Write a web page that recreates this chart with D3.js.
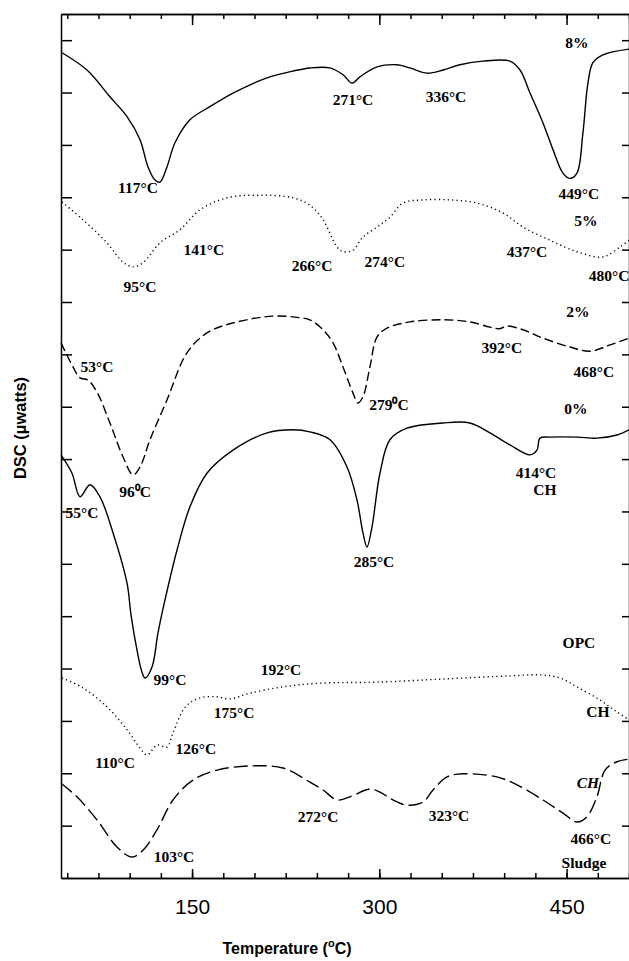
<!DOCTYPE html>
<html>
<head>
<meta charset="utf-8">
<script src="https://cdn.jsdelivr.net/npm/d3@7"></script>
<style>
  body { margin: 0; background: #ffffff; }
  svg { display: block; }
  .peak { font-family: "Liberation Serif", "Times New Roman", serif; font-weight: bold; font-size: 15.5px; }
  .axis text { font-family: "Liberation Sans", Arial, sans-serif; }
</style>
</head>
<body>
<div id="chart"></div>
<script>

// temperatures (deg C) and DSC readings (arbitrary units, one unit = one tick) per trace

var t8   = [45.8, 65.8, 84.2, 97.9, 108.3, 114.7, 120.3, 124.3, 129.9, 136.3, 148.3, 164.3, 182.8, 210.0, 230.8, 244.4, 260.5, 270.9, 278.1, 284.5, 298.1, 314.1, 324.5, 338.2, 351.0, 364.6, 383.0, 404.6, 412.7, 420.7, 431.1, 439.1, 447.1, 452.7, 458.3, 463.1, 467.1, 471.1, 479.1, 500.0];
var dsc8 = [15.76, 15.43, 14.92, 14.54, 14.10, 13.58, 13.33, 13.29, 13.58, 14.04, 14.48, 14.73, 14.99, 15.28, 15.41, 15.47, 15.47, 15.34, 15.18, 15.30, 15.49, 15.53, 15.47, 15.37, 15.43, 15.53, 15.60, 15.60, 15.43, 14.99, 14.42, 13.91, 13.46, 13.36, 13.46, 14.23, 15.18, 15.57, 15.72, 15.83];

var t5   = [45.8, 62.6, 81.8, 94.7, 102.7, 110.7, 124.3, 140.3, 156.3, 178.0, 204.4, 230.8, 244.4, 254.9, 266.1, 270.9, 278.9, 286.9, 298.1, 308.5, 318.9, 335.0, 356.6, 378.2, 399.0, 415.1, 436.7, 458.3, 479.1, 492.7, 500.0];
var dsc5 = [12.91, 12.57, 12.13, 11.76, 11.67, 11.75, 12.13, 12.38, 12.76, 12.99, 13.04, 12.99, 12.85, 12.57, 12.05, 11.96, 11.99, 12.24, 12.43, 12.62, 12.89, 12.95, 12.95, 12.89, 12.70, 12.43, 12.18, 11.96, 11.86, 12.05, 12.18];

var t2   = [45.0, 54.6, 60.2, 66.6, 73.8, 84.2, 94.7, 102.7, 108.3, 116.3, 129.9, 145.9, 161.9, 182.8, 214.8, 236.4, 244.4, 254.9, 262.9, 270.9, 278.9, 282.9, 286.9, 292.5, 298.1, 306.1, 324.5, 351.0, 372.6, 388.6, 396.6, 402.2, 415.1, 431.1, 452.7, 468.7, 484.8, 500.0];
var dsc2 = [10.22, 9.76, 9.55, 9.51, 9.28, 8.69, 8.04, 7.70, 7.85, 8.37, 9.13, 10.03, 10.41, 10.60, 10.73, 10.70, 10.66, 10.47, 10.22, 9.76, 9.26, 9.07, 9.19, 9.76, 10.33, 10.50, 10.62, 10.66, 10.62, 10.52, 10.49, 10.54, 10.47, 10.31, 10.14, 10.06, 10.18, 10.31];

var t0   = [45.0, 53.8, 60.2, 68.2, 76.2, 86.7, 97.9, 101.1, 105.9, 109.9, 112.3, 117.9, 122.7, 128.3, 137.9, 148.3, 161.9, 182.8, 210.0, 230.8, 244.4, 260.5, 274.1, 282.1, 286.9, 290.1, 294.1, 300.5, 308.5, 322.1, 351.0, 372.6, 388.6, 404.6, 420.7, 426.3, 428.7, 436.7, 458.3, 474.3, 490.4, 500.0];
var dsc0 = [8.08, 7.73, 7.28, 7.51, 7.28, 6.59, 5.63, 5.02, 4.35, 3.93, 3.82, 4.03, 4.68, 5.31, 6.26, 7.09, 7.73, 8.17, 8.50, 8.56, 8.52, 8.37, 7.85, 7.22, 6.59, 6.32, 6.70, 7.73, 8.37, 8.59, 8.69, 8.69, 8.50, 8.27, 8.08, 8.17, 8.40, 8.42, 8.42, 8.40, 8.46, 8.56];

var tOpc   = [45.8, 62.6, 81.8, 97.9, 108.3, 113.9, 121.9, 129.9, 134.7, 144.7, 156.3, 170.0, 180.4, 196.4, 222.8, 252.5, 298.1, 351.0, 404.6, 428.7, 444.7, 458.3, 476.7, 490.4, 500.0];
var dscOpc = [3.82, 3.63, 3.27, 2.83, 2.48, 2.35, 2.54, 2.50, 2.77, 3.27, 3.44, 3.46, 3.42, 3.53, 3.65, 3.72, 3.74, 3.80, 3.86, 3.88, 3.82, 3.65, 3.40, 3.17, 3.02];

var tSludge   = [45.0, 57.8, 73.8, 89.9, 101.9, 110.7, 121.9, 134.7, 150.7, 170.0, 196.4, 222.8, 244.4, 254.9, 266.1, 276.5, 292.5, 300.5, 310.9, 322.1, 335.0, 343.0, 354.2, 367.0, 394.2, 410.3, 431.1, 447.1, 458.3, 466.3, 474.3, 480.8, 490.4, 500.0];
var dscSludge = [1.81, 1.55, 1.11, 0.59, 0.40, 0.53, 0.92, 1.49, 1.87, 2.06, 2.14, 2.10, 1.83, 1.68, 1.49, 1.55, 1.70, 1.64, 1.49, 1.39, 1.45, 1.68, 1.93, 1.99, 1.93, 1.78, 1.49, 1.24, 1.07, 1.17, 1.55, 2.06, 2.22, 2.27];

// peak / sample labels: text, temperature, DSC level of the baseline
var peakLabels = [
  ["117°C", 106.7, 13.08], ["271°C", 278.9, 14.76], ["336°C", 353.4, 14.82], ["8%", 458.3, 15.85],
  ["449°C", 459.9, 12.97], ["5%", 465.5, 12.45], ["141°C", 159.5, 11.90], ["95°C", 108.3, 11.19],
  ["266°C", 246.1, 11.59], ["274°C", 304.5, 11.67], ["437°C", 418.3, 11.86], ["480°C", 484.0, 11.40],
  ["2%", 459.1, 10.71], ["53°C", 73.8, 9.66], ["96⁰C", 104.3, 7.28], ["55°C", 61.8, 6.88],
  ["392°C", 398.2, 10.03], ["468°C", 471.9, 9.57], ["279⁰C", 307.7, 8.94], ["0%", 457.5, 8.86],
  ["414°C", 425.5, 7.64], ["CH", 432.7, 7.31], ["285°C", 295.7, 5.94], ["99°C", 132.3, 3.69],
  ["192°C", 221.2, 3.88], ["175°C", 183.6, 3.06], ["126°C", 153.1, 2.37], ["110°C", 88.3, 2.10],
  ["103°C", 135.5, 0.31], ["272°C", 250.9, 1.07], ["323°C", 355.8, 1.09], ["OPC", 459.9, 4.39],
  ["CH", 475.1, 3.07], ["466°C", 469.5, 0.65], ["Sludge", 463.9, 0.19]
];
var italicLabels = [["CH", 467.1, 1.72]];

var majorTicks = [150, 300, 450];
var minorTicks = d3.range(50, 501, 25);
var dscTicks = d3.range(1, 17);

var width = 629, height = 961;

var x = d3.scaleLinear().domain([45, 500]).range([61, 629]);
var y = d3.scaleLinear().domain([0, 16.5]).range([878, 14]);

var svg = d3.select("#chart").append("svg")
  .attr("width", width)
  .attr("height", height);

// axes, all ticks pointing inward
function styleAxis(g) {
  g.attr("class", "axis");
  g.selectAll("path, line").attr("stroke", "#000").attr("stroke-width", 1.5);
  return g;
}

svg.append("g")
  .attr("transform", "translate(0,878)")
  .call(d3.axisBottom(x).tickValues(minorTicks).tickSize(-5).tickSizeOuter(0).tickFormat(""))
  .call(styleAxis);

svg.append("g")
  .attr("transform", "translate(0,878)")
  .call(d3.axisBottom(x).tickValues(majorTicks).tickSize(-9).tickSizeOuter(0).tickPadding(21))
  .call(styleAxis)
  .selectAll("text")
    .attr("font-size", 21)
    .attr("fill", "#000");

svg.append("g")
  .attr("transform", "translate(0,14)")
  .call(d3.axisTop(x).tickValues(minorTicks).tickSize(-5).tickSizeOuter(0).tickFormat(""))
  .call(styleAxis);

svg.append("g")
  .attr("transform", "translate(0,14)")
  .call(d3.axisTop(x).tickValues(majorTicks).tickSize(-11).tickSizeOuter(0).tickFormat(""))
  .call(styleAxis);

svg.append("g")
  .attr("transform", "translate(61,0)")
  .call(d3.axisLeft(y).tickValues(dscTicks).tickSize(-11).tickSizeOuter(0).tickFormat(""))
  .call(styleAxis);

svg.append("g")
  .attr("transform", "translate(629,0)")
  .call(d3.axisRight(y).tickValues(dscTicks).tickSize(-7).tickSizeOuter(0).tickFormat(""))
  .call(styleAxis);

// axis titles
svg.append("text")
  .attr("x", 287)
  .attr("y", 954)
  .attr("text-anchor", "middle")
  .style("font-family", "'Liberation Sans', Arial, sans-serif")
  .style("font-weight", "bold")
  .style("font-size", "16px")
  .call(function (t) {
    t.append("tspan").text("Temperature (");
    t.append("tspan").attr("dy", -7).style("font-size", "11px").text("o");
    t.append("tspan").attr("dy", 7).text("C)");
  });

svg.append("text")
  .attr("transform", "translate(26,428) rotate(-90)")
  .attr("text-anchor", "middle")
  .style("font-family", "'Liberation Sans', Arial, sans-serif")
  .style("font-weight", "bold")
  .style("font-size", "16.5px")
  .text("DSC (µwatts)");

// traces
var line = d3.line()
  .x(function (d) { return x(d[0]); })
  .y(function (d) { return y(d[1]); })
  .curve(d3.curveCatmullRom.alpha(0.5));

var traces = [
  { t: t8, v: dsc8, dash: null },
  { t: t5, v: dsc5, dash: "1.2,3.2" },
  { t: t2, v: dsc2, dash: "9,4" },
  { t: t0, v: dsc0, dash: null },
  { t: tOpc, v: dscOpc, dash: "1.2,3.2" },
  { t: tSludge, v: dscSludge, dash: "14,5" }
];

svg.append("g").selectAll("path")
  .data(traces)
  .enter().append("path")
    .attr("d", function (d) { return line(d3.zip(d.t, d.v)); })
    .attr("fill", "none")
    .attr("stroke", "#000")
    .attr("stroke-width", 1.4)
    .attr("stroke-dasharray", function (d) { return d.dash; });

// labels
svg.append("g").selectAll("text")
  .data(peakLabels)
  .enter().append("text")
    .attr("class", "peak")
    .attr("x", function (d) { return x(d[1]); })
    .attr("y", function (d) { return y(d[2]); })
    .attr("text-anchor", "middle")
    .text(function (d) { return d[0]; });

svg.append("g").selectAll("text")
  .data(italicLabels)
  .enter().append("text")
    .attr("class", "peak")
    .attr("x", function (d) { return x(d[1]); })
    .attr("y", function (d) { return y(d[2]); })
    .attr("text-anchor", "middle")
    .style("font-style", "italic")
    .text(function (d) { return d[0]; });

</script>
</body>
</html>
